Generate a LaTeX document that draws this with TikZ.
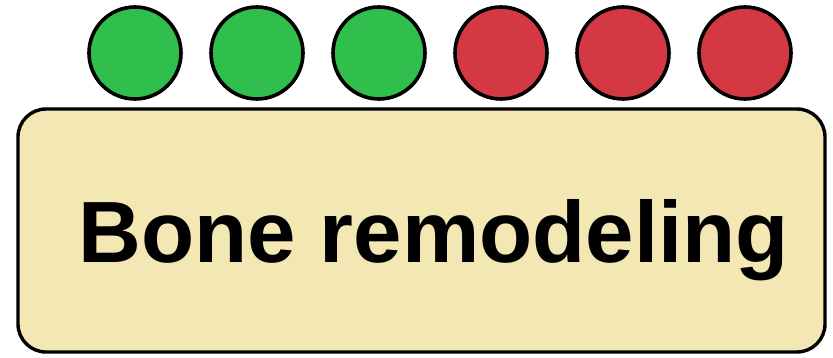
\documentclass[tikz,border=0pt]{standalone}
\usepackage{fontspec}
\setmainfont{Liberation Sans}
\definecolor{dotgreen}{RGB}{48,190,76}
\definecolor{dotred}{RGB}{212,56,66}
\definecolor{boxfill}{RGB}{243,231,180}
\begin{document}
\begin{tikzpicture}[x=1pt,y=-1pt,
  dot/.style={circle,draw=black,line width=3.6pt,minimum size=92pt,inner sep=0pt},
  gdot/.style={dot,fill=dotgreen},
  rdot/.style={dot,fill=dotred},
  mainbox/.style={draw=black,line width=3.4pt,fill=boxfill,rounded corners=28pt}]
\useasboundingbox (0,0) rectangle (833,358);
\node[gdot] (g1) at (135,53) {};
\node[gdot] (g2) at (257,53) {};
\node[gdot] (g3) at (379,53) {};
\node[rdot] (r1) at (501,53) {};
\node[rdot] (r2) at (623,53) {};
\node[rdot] (r3) at (745,53) {};
\draw[mainbox] (18,109) rectangle (825,352);
\node[anchor=base,inner sep=0pt,font=\fontsize{87pt}{90pt}\selectfont\bfseries] (label) at (433.5,263) {Bone remodeling};
\end{tikzpicture}
\end{document}
